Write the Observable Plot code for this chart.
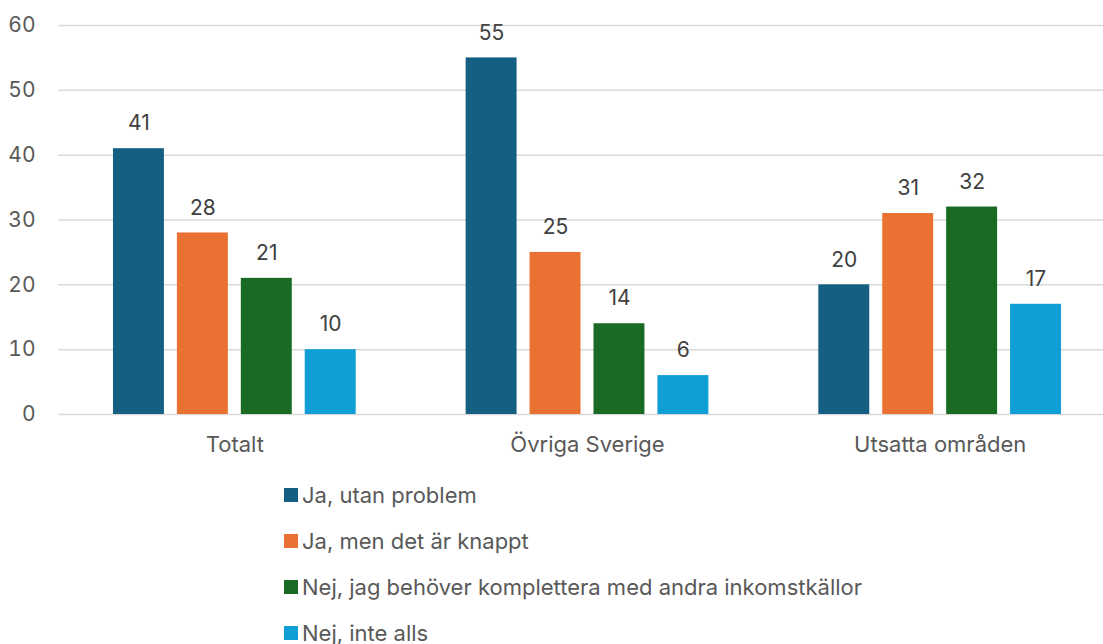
<!DOCTYPE html>
<html>
<head>
<meta charset="utf-8">
<script src="https://cdn.jsdelivr.net/npm/d3@7"></script>
<script src="https://cdn.jsdelivr.net/npm/@observablehq/plot@0.6"></script>
<style>
  html, body { margin: 0; padding: 0; background: #fff; overflow: hidden; }
  #chart svg { display: block; }
  .legend { margin-left: 284px; padding-top: 12px; font-family: Inter, "Liberation Sans", sans-serif; font-size: 22px; color: #595959; }
  .legend .row { display: flex; align-items: center; height: 46px; }
  .legend .sw { width: 14px; height: 14px; margin-right: 4px; flex: none; }
</style>
</head>
<body>
<div id="chart"></div>
<script>
const groups = ["Totalt", "Övriga Sverige", "Utsatta områden"];
const series = ["Ja, utan problem", "Ja, men det är knappt", "Nej, jag behöver komplettera med andra inkomstkällor", "Nej, inte alls"];
const valuesTotalt = [41, 28, 21, 10];
const valuesOvriga = [55, 25, 14, 6];
const valuesUtsatta = [20, 31, 32, 17];
const colors = ["#156082", "#E97132", "#196B24", "#0F9ED5"];
const yTicks = [0, 10, 20, 30, 40, 50, 60];

const valueLists = [valuesTotalt, valuesOvriga, valuesUtsatta];
const data = [];
groups.forEach((g, gi) => series.forEach((s, si) => data.push({group: g, series: s, value: valueLists[gi][si]})));

const font = "Inter, 'Liberation Sans', sans-serif";

const chart = Plot.plot({
  width: 1103,
  height: 460,
  marginLeft: 58,
  marginRight: -13,
  marginTop: 25,
  marginBottom: 46,
  style: {fontFamily: font, fontSize: "21px", color: "#595959", background: "#fff"},
  fx: {domain: groups, padding: 0, label: null, round: false},
  x: {domain: series, paddingInner: 0.203, paddingOuter: 0.86, axis: null, round: false},
  y: {domain: [0, 60], label: null},
  color: {domain: series, range: colors},
  marks: [
    Plot.gridY(yTicks, {stroke: "#d9d9d9", strokeOpacity: 1, strokeWidth: 1.5}),
    Plot.axisY(yTicks, {tickSize: 0, tickPadding: 23, label: null, fill: "#595959", fontSize: 21}),
    Plot.axisFx({anchor: "bottom", tickSize: 0, tickPadding: 22, label: null, fill: "#595959", fontSize: 22}),
    Plot.barY(data, {fx: "group", x: "series", y: "value", fill: "series"}),
    Plot.text(data, {fx: "group", x: "series", y: "value", text: d => String(d.value), dy: -25, fill: "#404040", fontSize: 21})
  ]
});
document.getElementById("chart").appendChild(chart);

const legend = document.createElement("div");
legend.className = "legend";
series.forEach((s, i) => {
  const row = document.createElement("div");
  row.className = "row";
  const sw = document.createElement("span");
  sw.className = "sw";
  sw.style.background = colors[i];
  const t = document.createElement("span");
  t.textContent = s;
  row.appendChild(sw);
  row.appendChild(t);
  legend.appendChild(row);
});
document.body.appendChild(legend);
</script>
</body>
</html>
